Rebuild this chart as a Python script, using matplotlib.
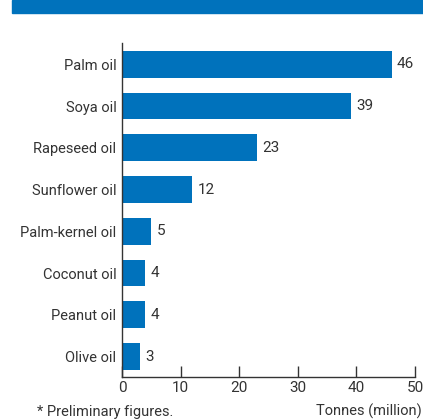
import matplotlib.pyplot as plt
from matplotlib.patches import Rectangle

oils = ['Palm oil', 'Soya oil', 'Rapeseed oil', 'Sunflower oil',
        'Palm-kernel oil', 'Coconut oil', 'Peanut oil', 'Olive oil']
tonnes = [46, 39, 23, 12, 5, 4, 4, 3]
xticks = [0, 10, 20, 30, 40, 50]

blue = '#0072bc'
grey = '#333333'
plt.rcParams['font.family'] = ['Roboto', 'DejaVu Sans']

fig = plt.figure(figsize=(4.23, 4.19), dpi=100)
W, H = 423, 419
ax = fig.add_axes([122 / W, 1 - 377 / H, (415 - 122) / W, (377 - 43) / H])

pos = list(range(len(oils)))[::-1]
ax.barh(pos, tonnes, height=0.64, color=blue, zorder=2)
for p, v in zip(pos, tonnes):
    ax.text(v + 0.9, p, str(v), va='center', ha='left', fontsize=11, color=grey)

ax.set_xlim(0, 50)
ax.set_ylim(-0.49, 7.51)
ax.set_yticks(pos)
ax.set_yticklabels(oils, fontsize=10.5, color=grey)
ax.set_xticks(xticks)
ax.set_xticklabels([str(t) for t in xticks], fontsize=11, color=grey)
ax.tick_params(axis='y', length=0, pad=4)
ax.tick_params(axis='x', direction='in', length=8, width=1, color=grey, pad=3)
for s in ['top', 'right']:
    ax.spines[s].set_visible(False)
for s in ['left', 'bottom']:
    ax.spines[s].set_color(grey)
    ax.spines[s].set_linewidth(1)

# header band and footnotes
fig.patches.append(Rectangle((12 / W, 1 - 13 / H), 1, 13 / H,
                             transform=fig.transFigure, color=blue, zorder=0))
fig.text(37 / W, 1 - 412 / H, '* Preliminary figures.', fontsize=10.5,
         color=grey, va='center', ha='left')
fig.text(422 / W, 1 - 411 / H, 'Tonnes (million)', fontsize=10.5,
         color=grey, va='center', ha='right')

fig.savefig('out.png', dpi=100)
